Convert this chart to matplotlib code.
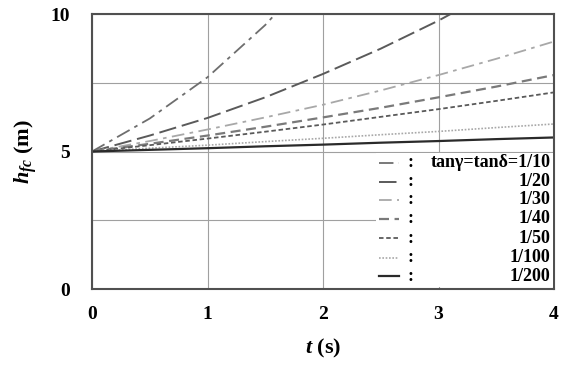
import numpy as np
import matplotlib
matplotlib.use("Agg")
import matplotlib.pyplot as plt
from matplotlib.lines import Line2D
from matplotlib.patches import Rectangle

# time axis (s)
t = [0, 0.5, 1, 1.5, 2, 2.5, 3, 3.5, 4]

# h_fc (m) for each slope tan(gamma)=tan(delta)
labels = ["1/10", "1/20", "1/30", "1/40", "1/50", "1/100", "1/200"]
h_10 = [5.0, 6.2, 7.7, 9.6, 11.9, 14.8, 18.3, 22.7, 28.2]
h_20 = [5.0, 5.58, 6.22, 6.97, 7.82, 8.74, 9.76, 10.9, 12.2]
h_30 = [5.0, 5.38, 5.8, 6.24, 6.7, 7.22, 7.78, 8.37, 9.0]
h_40 = [5.0, 5.28, 5.58, 5.9, 6.24, 6.59, 6.97, 7.36, 7.78]
h_50 = [5.0, 5.23, 5.47, 5.72, 5.98, 6.26, 6.54, 6.84, 7.15]
h_100 = [5.0, 5.12, 5.23, 5.36, 5.48, 5.61, 5.73, 5.87, 6.0]
h_200 = [5.0, 5.06, 5.12, 5.19, 5.25, 5.32, 5.38, 5.45, 5.51]
series = [h_10, h_20, h_30, h_40, h_50, h_100, h_200]

styles = [
    dict(color="#6e6e6e", lw=1.3, dashes=(8, 3, 2, 3)),
    dict(color="#5a5a5a", lw=1.4, dashes=(9, 3)),
    dict(color="#a8a8a8", lw=1.3, dashes=(7, 3, 2, 3)),
    dict(color="#7a7a7a", lw=1.6, dashes=(4.5, 2.5)),
    dict(color="#5a5a5a", lw=1.3, dashes=(2.5, 1.5)),
    dict(color="#a8a8a8", lw=1.2, dashes=(1, 1)),
    dict(color="#2a2a2a", lw=1.6, linestyle="-"),
]

plt.rcParams["font.family"] = "Liberation Serif"
plt.rcParams["mathtext.fontset"] = "custom"
plt.rcParams["mathtext.it"] = "Liberation Serif:italic:bold"
plt.rcParams["mathtext.rm"] = "Liberation Serif:bold"

fig = plt.figure(figsize=(5.64, 3.69), dpi=100)
ax = fig.add_axes([92 / 564, 1 - 289 / 369, 462 / 564, 275 / 369])

for h, st in zip(series, styles):
    ax.plot(t, h, **st)

ax.set_xlim(0, 4)
ax.set_ylim(0, 10)
ax.set_xticks([0, 1, 2, 3, 4])
ax.set_yticks([0, 5, 10])
ax.set_yticks([2.5, 7.5], minor=True)
ax.grid(True, which="both", color="#a0a0a0", lw=0.8)
ax.tick_params(which="both", length=0, labelsize=14)
ax.tick_params(axis="x", pad=12)
ax.tick_params(axis="y", pad=16)
for lab in ax.get_xticklabels() + ax.get_yticklabels():
    lab.set_fontweight("bold")
for sp in ax.spines.values():
    sp.set_color("#505050")
    sp.set_linewidth(1.5)

ax.set_xlabel(r"$t$ (s)", fontsize=16, fontweight="bold", labelpad=10)
ax.set_ylabel(r"$h_{fc}$ (m)", fontsize=16, fontweight="bold", labelpad=8)

# legend block, drawn by hand to keep the colon / right aligned layout
ax.add_patch(Rectangle((0.615, 0.006), 0.383, 0.49, transform=ax.transAxes,
                       facecolor="white", edgecolor="none", zorder=3))
rows = [0.459, 0.390, 0.324, 0.256, 0.185, 0.113, 0.047]
for i, (lab, st, y) in enumerate(zip(labels, styles, rows)):
    ax.add_line(Line2D([0.622, 0.665], [y, y], transform=ax.transAxes,
                       zorder=4, **st))
    ax.text(0.683, y, ":", transform=ax.transAxes, ha="left", va="center",
            fontsize=13, fontweight="bold", zorder=4)
    txt = "tanγ=tanδ=" + lab if i == 0 else lab
    ax.text(0.992, y, txt, transform=ax.transAxes, ha="right", va="center",
            fontsize=13, fontweight="bold", zorder=4)

fig.savefig("out.png", dpi=100)
